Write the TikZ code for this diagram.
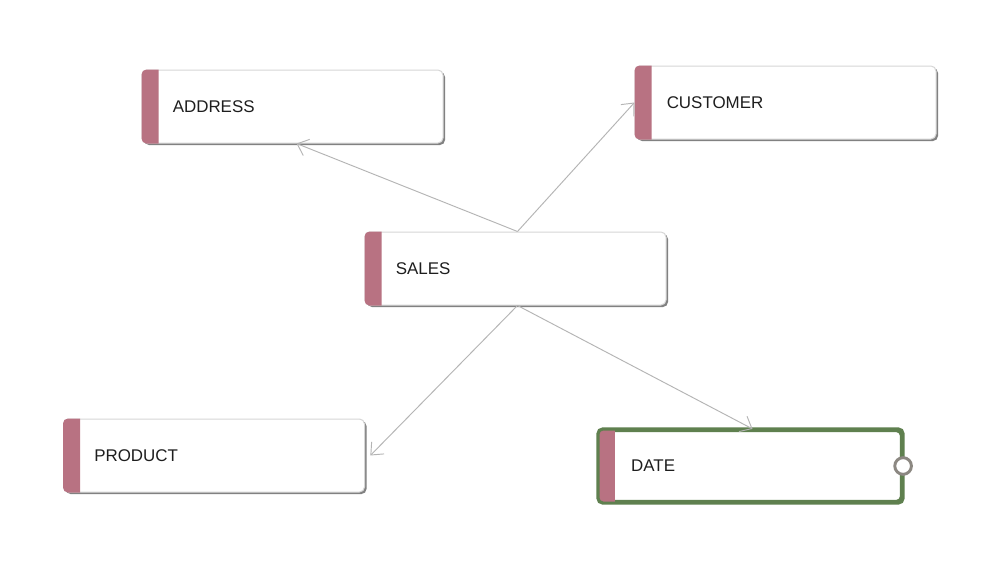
\documentclass[tikz,border=0pt]{standalone}
\usepackage{fontspec}
\setmainfont{Liberation Sans}
\usetikzlibrary{arrows.meta,shadows}
\definecolor{barc}{HTML}{B87282}
\definecolor{edgec}{HTML}{B4B4B4}
\definecolor{boxline}{HTML}{D6D6D6}
\definecolor{datec}{HTML}{5F804F}
\definecolor{portc}{HTML}{8C8882}
\definecolor{txt}{HTML}{1E1E1E}
\tikzset{
  entity/.style={rectangle, rounded corners=3.75pt, draw=boxline, line width=0.75pt, fill=white,
    minimum width=225.75pt, minimum height=54.75pt, inner sep=0,
    drop shadow={shadow xshift=1.5pt, shadow yshift=-1.5pt, fill=black!70, opacity=0.7}},
  dateentity/.style={entity, draw=datec, line width=2.4pt, minimum width=226.5pt, minimum height=53.25pt},
  lbl/.style={anchor=west, inner sep=0, font=\fontsize{12.7pt}{14pt}\selectfont, text=txt},
  rel/.style={draw=edgec, line width=0.7pt, -{Straight Barb[length=7.5pt,width=13pt,line width=0.7pt]}},
  port/.style={circle, draw=portc, line width=2.2pt, fill=white, minimum size=12.5pt, inner sep=0}
}
\newcommand{\entbar}[1]{%
  \fill[barc] ([xshift=12.75pt]#1.north west) [rounded corners=3.75pt] -- (#1.north west) -- (#1.south west) [sharp corners] -- ([xshift=12.75pt]#1.south west) -- cycle;}
\begin{document}
\begin{tikzpicture}[x=0.75pt,y=-0.75pt]
\useasboundingbox (0,0) rectangle (1008,564);
\fill[white] (0,0) rectangle (1008,564);

\node[entity] (address) at (292.5,106.5) {};
\node[entity] (customer) at (785.5,102.5) {};
\node[entity] (sales) at (515.5,268.5) {};
\node[entity] (product) at (214,455.5) {};
\node[dateentity] (date) at (750.5,466) {};

\entbar{address}
\entbar{customer}
\entbar{sales}
\entbar{product}
\fill[barc] ([xshift=12.75pt]date.north west) [rounded corners=3pt] -- (date.north west) -- (date.south west) [sharp corners] -- ([xshift=12.75pt]date.south west) -- cycle;
\draw[datec, line width=2.4pt, rounded corners=3.75pt] (date.north west) rectangle (date.south east);

\node[lbl] (laddress) at ([xshift=23.25pt]address.west) {ADDRESS};
\node[lbl] (lcustomer) at ([xshift=24pt]customer.west) {CUSTOMER};
\node[lbl] (lsales) at ([xshift=23.25pt]sales.west) {SALES};
\node[lbl] (lproduct) at ([xshift=23.25pt]product.west) {PRODUCT};
\node[lbl] (ldate) at ([xshift=24.75pt]date.west) {DATE};

\node[port] (dport) at (date.east) {};

\coordinate (stop) at ([xshift=1.5pt]sales.north);
\coordinate (sbot) at ([xshift=1.5pt]sales.south);
\draw[rel] (stop) -- ([xshift=3pt]address.south);
\draw[rel] (stop) -- (customer.west);
\draw[rel] (sbot) -- ([xshift=4pt]product.east);
\draw[rel] (sbot) -- ([xshift=1.5pt]date.north);
\end{tikzpicture}
\end{document}
